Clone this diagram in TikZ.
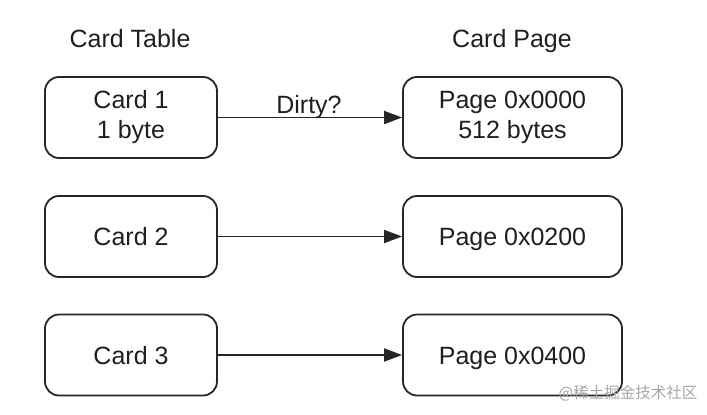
\documentclass[tikz,border=0pt]{standalone}
\usepackage{fontspec}
\setmainfont{Liberation Sans}
\newfontfamily\cjk{Noto Sans CJK SC}
\usetikzlibrary{arrows.meta}

\begin{document}
\begin{tikzpicture}[x=1pt,y=-1pt,
  box/.style={draw=black!85,line width=1.8pt,rounded corners=14pt,minimum height=81pt,align=center,text=black!88,font=\fontsize{25}{30}\selectfont},
  card/.style={box,minimum width=172pt},
  page/.style={box,minimum width=219pt},
  oneline/.style={text height=18pt,text depth=0pt},
  title/.style={text=black!88,font=\fontsize{25}{28}\selectfont,anchor=base},
  link/.style={draw=black!85,line width=1.8pt,-{Triangle[length=18pt,width=13pt]}}]

\useasboundingbox (0,0) rectangle (707,415);

\node[title] (t1) at (130,47) {Card Table};
\node[title] (t2) at (512,47) {Card Page};

\node[card] (c1) at (131,117.5) {Card 1\\1 byte};
\node[card,oneline] (c2) at (131,236.5) {Card 2};
\node[card,oneline] (c3) at (131,355) {Card 3};

\node[page] (p1) at (512.5,117.5) {Page 0x0000\\512 bytes};
\node[page,oneline] (p2) at (512.5,236.5) {Page 0x0200};
\node[page,oneline] (p3) at (512.5,355) {Page 0x0400};

\draw[link] (c1) -- (p1);
\draw[link] (c2) -- (p2);
\draw[link] (c3) -- (p3);
\node[title] (d) at (309,113) {Dirty?};

\node[text=black!35,font=\cjk\fontsize{15.5}{18}\selectfont] (w) at (628,393) {@稀土掘金技术社区};
\end{tikzpicture}
\end{document}
